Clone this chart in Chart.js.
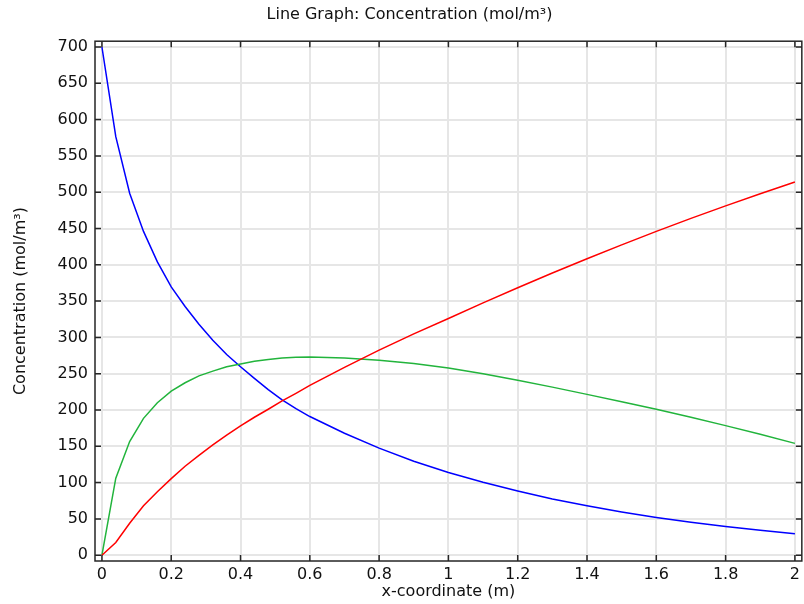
<!DOCTYPE html>
<html>
<head>
<meta charset="utf-8">
<title>Line Graph: Concentration</title>
<script src="https://cdn.jsdelivr.net/npm/chart.js@4/dist/chart.umd.min.js"></script>
<style>
    html, body { margin: 0; padding: 0; background: #fff; overflow: hidden; }
    canvas { display: block; }
</style>
</head>
<body>
<canvas id="lineChart" width="804" height="604"></canvas>
<script>
// x-coordinate (m)
let xCoord = [0, 0.04, 0.08, 0.12, 0.16, 0.2, 0.24, 0.28, 0.32, 0.36, 0.4, 0.44, 0.48, 0.52, 0.56, 0.6,
    0.7, 0.8, 0.9, 1.0, 1.1, 1.2, 1.3, 1.4, 1.5, 1.6, 1.7, 1.8, 1.9, 2.0];

// Concentrations (mol/m3) along the line
let concA = [700, 576.5, 498.5, 446, 404, 369.5, 342.5, 318, 296, 276.5, 259.5, 243.5, 228, 214, 202, 191,
    168, 147.5, 129.5, 114, 100.5, 88.5, 77.5, 68, 59.5, 52, 45.5, 39.5, 34.5, 29.5];
let concB = [0, 106, 156.5, 188.5, 210, 226, 237.5, 247, 253.5, 259.5, 263.5, 267, 269.5, 271.5, 272.5, 273,
    271.5, 268.5, 264, 258, 250, 241, 231.5, 221.5, 211.5, 201, 190, 178.5, 166.5, 154];
let concC = [0, 17.5, 44, 68, 87.5, 105.5, 122.5, 137.5, 152, 165.5, 178, 190, 201, 212.5, 223, 234,
    258.8, 282.4, 304.8, 326, 347.5, 368.4, 388.7, 408.4, 427.5, 446, 463.9, 481.2, 497.9, 514];

let xTicks = [0, 0.2, 0.4, 0.6, 0.8, 1, 1.2, 1.4, 1.6, 1.8, 2];
let yTicks = [0, 50, 100, 150, 200, 250, 300, 350, 400, 450, 500, 550, 600, 650, 700];

Chart.defaults.font.family = "'DejaVu Sans', sans-serif";
Chart.defaults.font.size = 16;
Chart.defaults.color = '#111';

function points(ys) {
    return xCoord.map((x, i) => ({ x: x, y: ys[i] }));
}

// Box around the plot with short inward ticks on all four sides
let frameTicks = {
    id: 'frameTicks',
    afterDatasetsDraw(chart) {
        let { ctx, chartArea: a, scales: { x, y } } = chart;
        ctx.save();
        ctx.strokeStyle = '#262626';
        ctx.lineWidth = 1.5;
        ctx.beginPath();
        xTicks.forEach(v => {
            let px = x.getPixelForValue(v);
            ctx.moveTo(px, a.bottom);
            ctx.lineTo(px, a.bottom - 6);
            ctx.moveTo(px, a.top);
            ctx.lineTo(px, a.top + 6);
        });
        yTicks.forEach(v => {
            let py = y.getPixelForValue(v);
            ctx.moveTo(a.left, py);
            ctx.lineTo(a.left + 6, py);
            ctx.moveTo(a.right, py);
            ctx.lineTo(a.right - 6, py);
        });
        ctx.stroke();
        ctx.strokeRect(a.left, a.top, a.right - a.left, a.bottom - a.top);
        ctx.restore();
    }
};

let gridStyle = { color: '#e6e6e6', lineWidth: 2, drawTicks: false };

let lineCtx = document.getElementById('lineChart').getContext('2d');
let lineChart = new Chart(lineCtx, {
    type: 'line',
    data: {
        datasets: [
            { data: points(concA), borderColor: '#0000ff', order: 3 },
            { data: points(concB), borderColor: '#22b43c', order: 2 },
            { data: points(concC), borderColor: '#ff0000', order: 1 }
        ]
    },
    options: {
        responsive: false,
        animation: false,
        devicePixelRatio: 1,
        // left padding pushes the title a bit right; y axis box is narrowed to match
        layout: { padding: { left: 16, right: 1, top: 0, bottom: 0 } },
        elements: {
            line: { borderWidth: 1.5, fill: false, tension: 0 },
            point: { radius: 0, hoverRadius: 0 }
        },
        plugins: {
            legend: { display: false },
            tooltip: { enabled: false },
            title: {
                display: true,
                text: 'Line Graph: Concentration (mol/m³)',
                font: { size: 16, weight: 'normal' },
                padding: { top: 5, bottom: 17 }
            }
        },
        scales: {
            x: {
                type: 'linear',
                min: -0.02,
                max: 2.02,
                afterBuildTicks: s => { s.ticks = xTicks.map(v => ({ value: v })); },
                afterFit: s => { s.height = 43; },
                ticks: {
                    padding: 4,
                    maxRotation: 0,
                    autoSkip: false,
                    callback: v => String(Number(v.toFixed(2)))
                },
                grid: gridStyle,
                border: { display: false },
                title: {
                    display: true,
                    text: 'x-coordinate (m)',
                    padding: { top: 0, bottom: 3 }
                }
            },
            y: {
                min: -8,
                max: 708,
                afterBuildTicks: s => { s.ticks = yTicks.map(v => ({ value: v })); },
                afterFit: s => { s.width = 79; },
                ticks: { padding: 7, autoSkip: false },
                grid: gridStyle,
                border: { display: false },
                title: {
                    display: true,
                    text: 'Concentration (mol/m³)',
                    padding: { top: -5, bottom: 0 }
                }
            }
        }
    },
    plugins: [frameTicks]
});
</script>
</body>
</html>
